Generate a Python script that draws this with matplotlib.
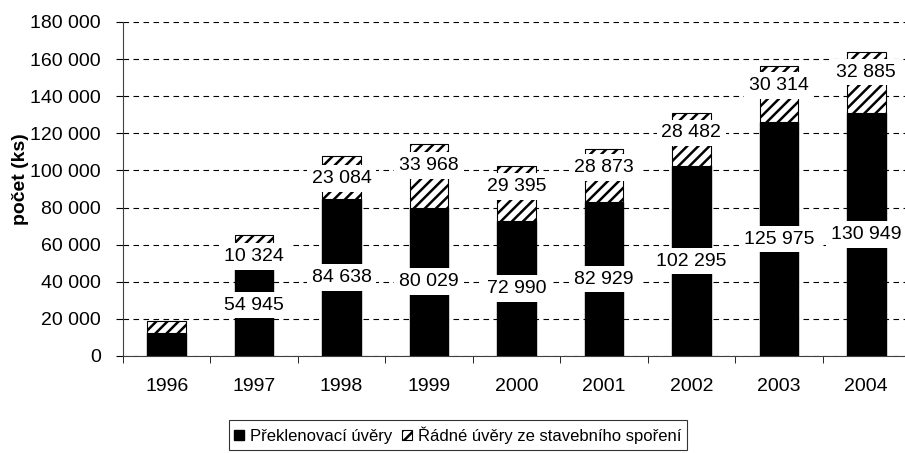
import matplotlib.pyplot as plt
import numpy as np
from matplotlib.ticker import FuncFormatter, MultipleLocator

plt.rcParams['font.family'] = ['Liberation Sans', 'DejaVu Sans']
plt.rcParams['hatch.linewidth'] = 1.8

years = ['1996', '1997', '1998', '1999', '2000', '2001', '2002', '2003', '2004']
preklenovaci = [12400, 54945, 84638, 80029, 72990, 82929, 102295, 125975, 130949]
radne = [6500, 10324, 23084, 33968, 29395, 28873, 28482, 30314, 32885]
# 1996 has no value labels in the original
show_label = [False, True, True, True, True, True, True, True, True]
# where the hatched-segment label sits, as a fraction of that segment (as in the original)
radne_label_pos = [0.5, -0.13, 0.47, 0.67, 0.62, 0.64, 0.63, 0.65, 0.67]

fig = plt.figure(figsize=(9.05, 4.53), dpi=100)
ax = fig.add_axes([123 / 905, 1 - 356 / 453, 787 / 905, 334 / 453])

x = np.arange(len(years))
w = 0.44
ax.bar(x, preklenovaci, w, color='black', edgecolor='black', zorder=2,
       label='Překlenovací úvěry')
ax.bar(x, radne, w, bottom=preklenovaci, color='white', edgecolor='black',
       hatch='///', linewidth=0.8, zorder=2,
       label='Řádné úvěry ze stavebního spoření')

def fmt(v):
    return f'{v:,}'.replace(',', ' ')

fs = 14
box = dict(facecolor='white', edgecolor='none', pad=3.5)
for i in range(len(years)):
    if not show_label[i]:
        continue
    ax.text(x[i], preklenovaci[i] / 2, fmt(preklenovaci[i]), ha='center',
            va='center', fontsize=fs, bbox=box, zorder=3)
    ax.text(x[i], preklenovaci[i] + radne[i] * radne_label_pos[i], fmt(radne[i]),
            ha='center', va='center', fontsize=fs, bbox=box, zorder=3)

ax.set_xlim(-0.5, len(years) - 0.5)
ax.set_ylim(0, 180000)
ax.yaxis.set_major_locator(MultipleLocator(20000))
ax.yaxis.set_major_formatter(FuncFormatter(lambda v, p: fmt(int(v))))
ax.set_xticks(x)
ax.set_xticklabels(years)
ax.set_xticks(np.arange(-0.5, len(years), 1), minor=True)
ax.tick_params(axis='x', which='major', length=0, pad=16, labelsize=fs)
ax.tick_params(axis='x', which='minor', length=5, color='black')
ax.tick_params(axis='y', length=5, pad=11, labelsize=fs, color='black')

ax.grid(axis='y', color='black', linestyle=(0, (5, 4)), linewidth=0.8, zorder=1)
ax.get_ygridlines()[-1].set_color('#808080')
for s in ['top', 'right']:
    ax.spines[s].set_visible(False)
ax.spines['left'].set_color('#404040')
ax.spines['bottom'].set_color('#404040')

ax.set_ylabel('počet (ks)', fontsize=fs, fontweight='bold')
ax.yaxis.set_label_coords(-(123 - 29) / 787, 0.53)

leg = fig.legend(loc='center', bbox_to_anchor=(458 / 905, 1 - 435 / 453), ncol=2,
                 frameon=True, fancybox=False, edgecolor='black', fontsize=12,
                 handlelength=0.6, handleheight=0.6, handletextpad=0.35,
                 columnspacing=0.6, borderpad=0.35, borderaxespad=0)
leg.get_frame().set_linewidth(0.8)

fig.savefig('out.png', dpi=100)
